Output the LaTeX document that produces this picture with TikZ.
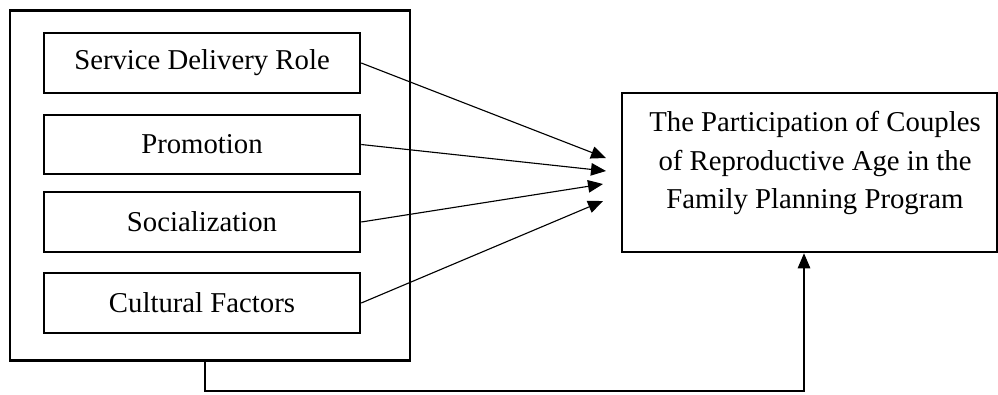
\documentclass[tikz,border=0pt]{standalone}
\usepackage{fontspec}
\setmainfont{Liberation Serif}
\usetikzlibrary{arrows.meta}
\tikzset{
  boxline/.style={draw, line width=1pt, inner sep=0pt, anchor=center},
  factor/.style={boxline, minimum width=126.4pt, minimum height=24pt, font=\fontsize{11.5}{13}\selectfont},
  link/.style={line width=0.45pt, -{Triangle[length=6pt,width=5pt]}},
  plain/.style={line width=0.45pt}
}
\begin{document}
\begin{tikzpicture}[x=0.4pt,y=-0.4pt]
\useasboundingbox (0,0) rectangle (998,394);
\node[boxline, minimum width=160pt, minimum height=140pt] (outer) at (210,185.5) {};
\node[factor] (f1) at (202,63) {Service Delivery Role};
\node[factor, minimum height=23.6pt] (f2) at (202,144.5) {Promotion};
\node[factor] (f3) at (202,222) {Socialization};
\node[factor] (f4) at (202,303) {Cultural Factors};
\node[boxline, minimum width=150pt, minimum height=63.6pt] (target) at (809.5,172.5) {};
\node[anchor=north, inner sep=0pt, align=center, font=\fontsize{11.5}{15.4}\selectfont] (ttext) at (815,111)
  {The Participation of Couples\\ of Reproductive Age in the\\ Family Planning Program};
\coordinate (t1) at (606,158);
\coordinate (t2) at (606,171);
\coordinate (t3) at (603,184);
\coordinate (t4) at (603,201);
\draw[link] (f1.east) -- (t1);
\draw[link] (f2.east) -- (t2);
\draw[link] (f3.east) -- (t3);
\draw[link] (f4.east) -- (t4);
\coordinate (s) at (205,360);
\coordinate (c1) at (205,391);
\coordinate (c2) at (804,391);
\draw[link] (s) -- (c1) -- (c2) -- (target.south -| c2);
\end{tikzpicture}
\end{document}
